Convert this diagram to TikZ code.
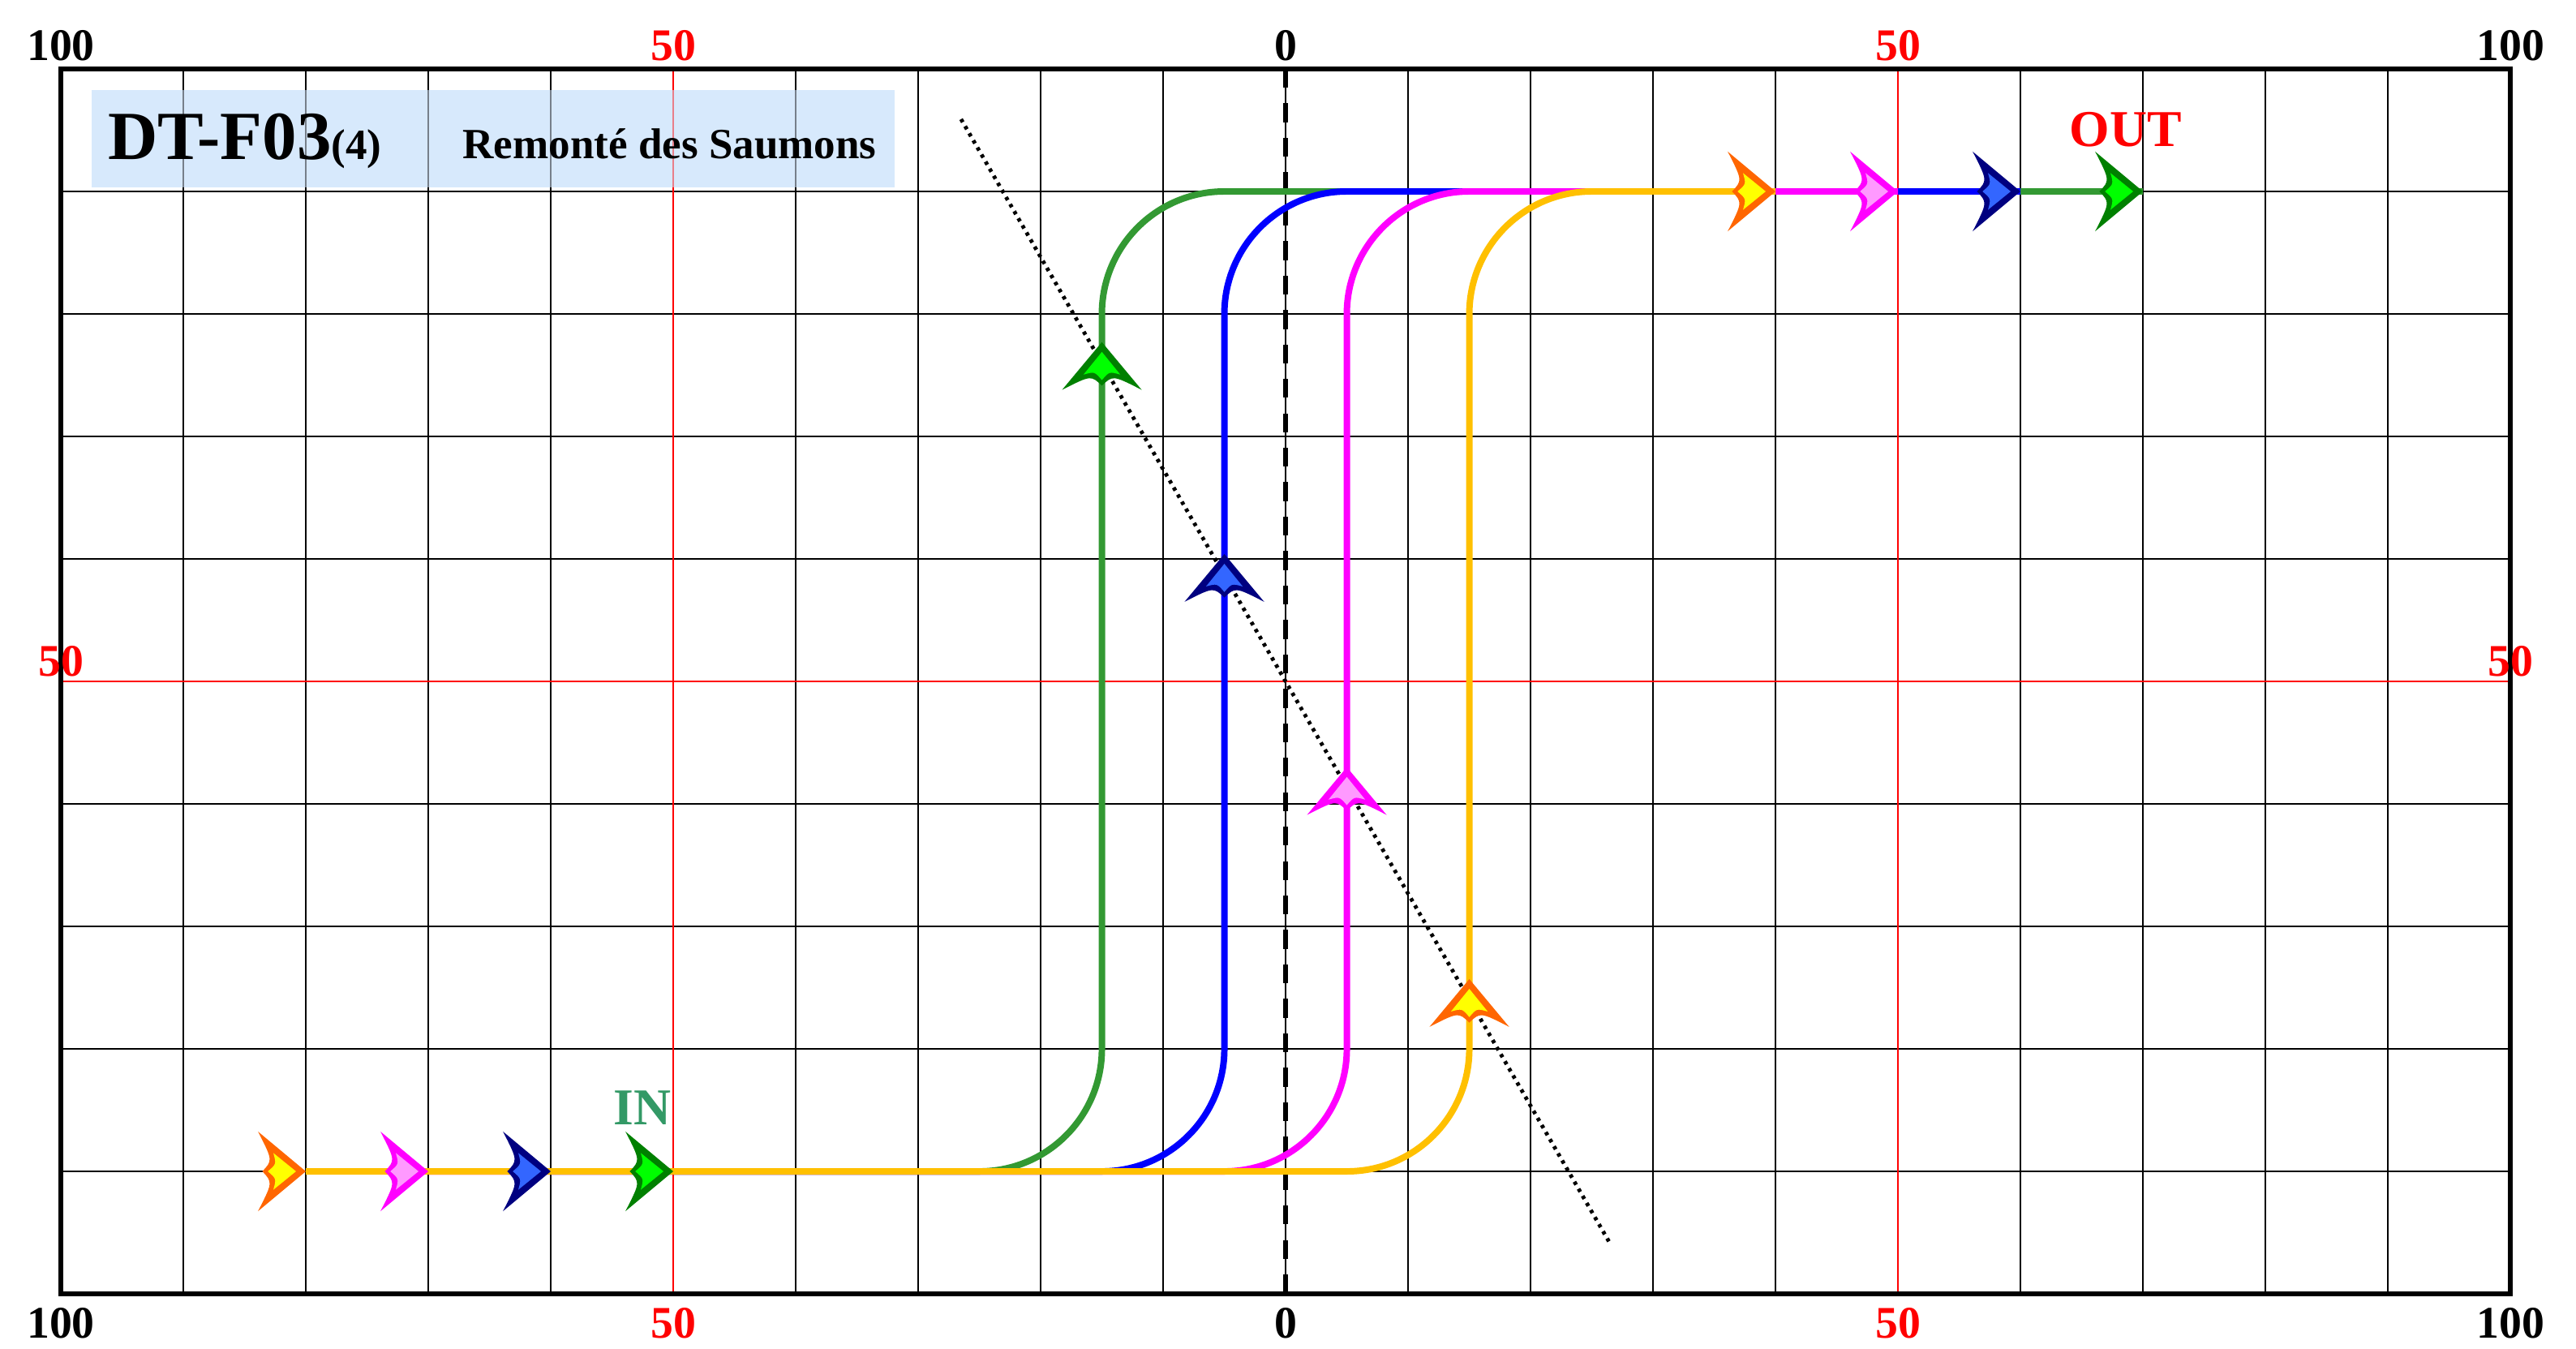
\documentclass[tikz,border=0pt]{standalone}
\usepackage{fontspec}
\setmainfont{Liberation Serif}
\usepackage{tikz}
\usetikzlibrary{calc}

\definecolor{pathgreen}{HTML}{339933}
\definecolor{pathblue}{HTML}{0000FF}
\definecolor{pathpink}{HTML}{FF00FF}
\definecolor{pathgold}{HTML}{FFC000}
\definecolor{tipgold}{HTML}{FF6600}
\definecolor{fillgold}{HTML}{FFFF00}
\definecolor{fillpink}{HTML}{FF99FF}
\definecolor{tipblue}{HTML}{000080}
\definecolor{fillblue}{HTML}{3366FF}
\definecolor{tipgreen}{HTML}{008000}
\definecolor{fillgreen}{HTML}{00FF00}
\definecolor{ingreen}{HTML}{339966}
\definecolor{boxblue}{HTML}{D7E9FC}

% fish shaped arrow head: tip point, angle, outline colour, inner colour
\newcommand{\fishtip}[4]{%
  \begin{scope}[shift={#1}, rotate=#2]
    \fill[#3] (0,0) -- (-0.39,0.325) .. controls (-0.27,0.09) .. (-0.355,0)
      .. controls (-0.27,-0.09) .. (-0.39,-0.325) -- cycle;
    \fill[#4] (-0.08,0) -- (-0.265,0.15) .. controls (-0.24,0.06) .. (-0.31,0)
      .. controls (-0.24,-0.06) .. (-0.265,-0.15) -- cycle;
  \end{scope}}

\tikzset{
  gridline/.style={line width=0.45pt, black},
  redline/.style={line width=0.45pt, red},
  route/.style={line width=1.5pt, rounded corners=1cm},
  scalelbl/.style={font=\bfseries\fontsize{10.5}{12}\selectfont, inner sep=0pt}
}

\begin{document}
\begin{tikzpicture}
  \useasboundingbox (-10.497,-0.450) rectangle (10.536,10.563);
  % title box
  \fill[boxblue] (-9.75,9.03) rectangle (-3.19,9.83);
  % grid
  \foreach \x in {-9,...,9}
    \draw[gridline] (\x,0) -- (\x,10);
  \foreach \y in {1,...,9}
    \draw[gridline] (-10,\y) -- (10,\y);
  \draw[redline] (-5,0) -- (-5,10);
  \draw[redline] (5,0) -- (5,10);
  \draw[redline] (-10,5) -- (10,5);
  \fill[boxblue, fill opacity=0.55] (-9.75,9.03) rectangle (-3.19,9.83);
  % axis of symmetry and crossing line
  \draw[line width=1pt, dash pattern=on 4.4pt off 3.6pt] (0,10) -- (0,0);
  \draw[line width=0.9pt, dash pattern=on 0.8pt off 1.1pt] (-2.65,9.59) -- (2.65,0.41);
  \draw[line width=1.1pt] (-10,0) rectangle (10,10);
  % the four routes
  \draw[route, pathgreen] (-5,1) -- (-1.5,1) -- (-1.5,9) -- (7,9);
  \draw[route, pathblue]  (-6,1) -- (-0.5,1) -- (-0.5,9) -- (6,9);
  \draw[route, pathpink]  (-7,1) -- (0.5,1) -- (0.5,9) -- (5,9);
  \draw[route, pathgold]  (-8,1) -- (1.5,1) -- (1.5,9) -- (4,9);
  % entries
  \fishtip{(-8,1)}{0}{tipgold}{fillgold}
  \fishtip{(-7,1)}{0}{pathpink}{fillpink}
  \fishtip{(-6,1)}{0}{tipblue}{fillblue}
  \fishtip{(-5,1)}{0}{tipgreen}{fillgreen}
  % climbs
  \fishtip{(-1.5,7.77)}{90}{tipgreen}{fillgreen}
  \fishtip{(-0.5,6.04)}{90}{tipblue}{fillblue}
  \fishtip{(0.5,4.30)}{90}{pathpink}{fillpink}
  \fishtip{(1.5,2.57)}{90}{tipgold}{fillgold}
  % exits
  \fishtip{(4,9)}{0}{tipgold}{fillgold}
  \fishtip{(5,9)}{0}{pathpink}{fillpink}
  \fishtip{(6,9)}{0}{tipblue}{fillblue}
  \fishtip{(7,9)}{0}{tipgreen}{fillgreen}
  % scale labels
  \node[scalelbl, anchor=base] (topL) at (-10,10.07) {100};
  \node[scalelbl, anchor=base, red] (topA) at (-5,10.07) {50};
  \node[scalelbl, anchor=base] (topO) at (0,10.07) {0};
  \node[scalelbl, anchor=base, red] (topB) at (5,10.07) {50};
  \node[scalelbl, anchor=base] (topR) at (10,10.07) {100};
  \node[scalelbl, anchor=north] (botL) at (-10,-0.11) {100};
  \node[scalelbl, anchor=north, red] (botA) at (-5,-0.11) {50};
  \node[scalelbl, anchor=north] (botO) at (0,-0.11) {0};
  \node[scalelbl, anchor=north, red] (botB) at (5,-0.11) {50};
  \node[scalelbl, anchor=north] (botR) at (10,-0.11) {100};
  \node[scalelbl, anchor=base, red] (sideL) at (-10,5.04) {50};
  \node[scalelbl, anchor=base, red] (sideR) at (10,5.04) {50};
  % title and flow labels
  \node[anchor=base west, inner sep=0pt, font=\bfseries] (code) at (-9.62,9.26)
    {\fontsize{16}{18}\selectfont DT-F03\fontsize{10}{12}\selectfont(4)};
  \node[anchor=base, inner sep=0pt, font=\bfseries\fontsize{10}{12}\selectfont]
    (name) at (-5.03,9.27) {Remonté des Saumons};
  \node[anchor=base, inner sep=0pt, ingreen, font=\bfseries\fontsize{12}{14}\selectfont]
    (in) at (-5.25,1.38) {IN};
  \node[anchor=base, inner sep=0pt, red, font=\bfseries\fontsize{12}{14}\selectfont]
    (out) at (6.86,9.37) {OUT};
\end{tikzpicture}
\end{document}
